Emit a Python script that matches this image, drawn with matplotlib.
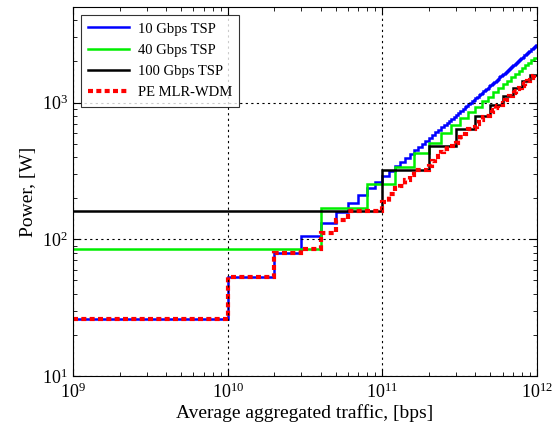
import numpy as np
import matplotlib
matplotlib.use("Agg")
import matplotlib.pyplot as plt

rates = [10e9, 40e9, 100e9]
unit_power = [26.3, 85.0, 160.0]
labels = ["10 Gbps TSP", "40 Gbps TSP", "100 Gbps TSP", "PE MLR-WDM"]
colors = ["#0000ff", "#00ee00", "#000000", "#ff0000"]

# traffic bins: 1 Gbps start, then every 10 Gbps up to 1 Tbps
edges = np.array([1e9] + [k * 10e9 for k in range(1, 101)])
demand = edges[1:]


def single_rate(rate, p):
    return p * np.ceil(demand / rate - 1e-9)


def mixed_line_rate():
    # cheapest mix of transponders covering each demand (in 10G units)
    units = [int(r / 10e9) for r in rates]
    n = len(demand)
    best = np.full(n + 1, np.inf)
    best[0] = 0.0
    for k in range(1, n + 1):
        for u, p in zip(units, unit_power):
            best[k] = min(best[k], best[max(0, k - u)] + p)
    return best[1:]


plt.rcParams["font.family"] = "serif"
plt.rcParams["font.serif"] = ["Liberation Serif"]
plt.rcParams["mathtext.fontset"] = "custom"
plt.rcParams["mathtext.rm"] = "Liberation Serif"
plt.rcParams["font.size"] = 13

fig = plt.figure(figsize=(5.55, 4.29), dpi=100)
ax = fig.add_axes([73 / 555, 1 - 376 / 429, 464 / 555, 369 / 429])

for (rate, p), lab, col in zip(zip(rates, unit_power), labels, colors):
    ax.stairs(single_rate(rate, p), edges, color=col, linewidth=1.8, label=lab, baseline=None)
ax.stairs(mixed_line_rate(), edges, color=colors[3], linewidth=3, linestyle=(0, (1.2, 0.8)),
          label=labels[3], baseline=None)

ax.set_xscale("log")
ax.set_yscale("log")
ax.set_xlim(1e9, 1e12)
ax.set_ylim(10, 5000)
ax.grid(True, which="major", color="black", linestyle=(0, (2, 3)), linewidth=0.8)
ax.tick_params(which="both", direction="in", top=True, right=True)
ax.tick_params(which="major", length=5)
ax.tick_params(which="minor", length=3)
ax.xaxis.set_tick_params(pad=5)
ax.set_xlabel("Average aggregated traffic, [bps]", fontsize=14, labelpad=1)
ax.set_ylabel("Power, [W]", fontsize=14, labelpad=4)

leg = ax.legend(loc="upper left", fontsize=10.5, handlelength=2.8, handletextpad=0.6,
                frameon=True, fancybox=False, edgecolor="black", borderaxespad=0.55,
                borderpad=0.5, labelspacing=0.55)
leg.get_frame().set_linewidth(0.8)

fig.savefig("out.png", dpi=100)
